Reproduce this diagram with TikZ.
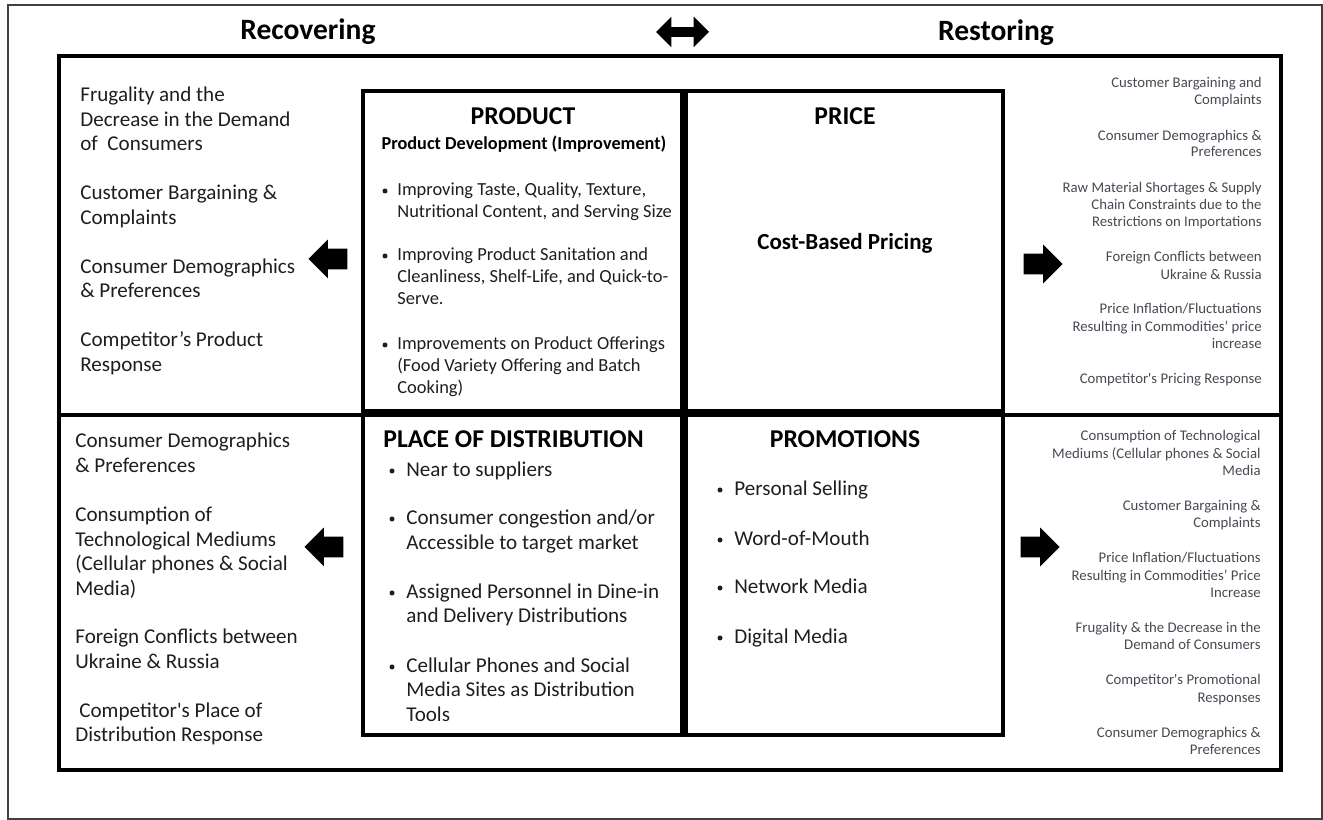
\documentclass[tikz,border=0pt]{standalone}
\usepackage{fontspec}
\setmainfont{Carlito}
\usetikzlibrary{positioning,shapes.arrows}
\definecolor{inkMain}{HTML}{1E1E1E}
\definecolor{inkSide}{HTML}{4B4753}

\tikzset{
  quad/.style={draw,line width=0.08cm,minimum width=6.38cm,minimum height=6.4cm,inner sep=0},
  heading/.style={font=\bfseries\fontsize{14.6}{16}\selectfont,inner sep=0,text height=9.4pt,text depth=0pt},
  sideL/.style={anchor=west,text=inkMain,font=\fontsize{12}{14}\selectfont,inner sep=0,text height=7.7pt,text depth=0pt},
  sideR/.style={anchor=east,text=inkSide,font=\fontsize{8.4}{10}\selectfont,inner sep=0,text height=5.4pt,text depth=0pt},
  itemS/.style={sideL,font=\fontsize{10.5}{12}\selectfont,text height=6.8pt},
  blockarrow/.style={single arrow,fill=black,inner xsep=0,inner ysep=0.2cm,minimum height=0.78cm,single arrow head extend=0.18cm}
}

\begin{document}
\begin{tikzpicture}[x=0.02cm,y=-0.02cm]
\useasboundingbox (0,0) rectangle (1323,820);

\draw[black!75,line width=0.045cm] (8,5) rectangle (1322,819);
\draw[line width=0.07cm] (59,56) rectangle (1281,770);
\draw[line width=0.07cm] (59,415) -- (1281,415);

\node[heading,font=\bfseries\fontsize{16.8}{18}\selectfont,text height=10.8pt] (tRecover) at (308,30) {Recovering};
\node[heading,font=\bfseries\fontsize{16.8}{18}\selectfont,text height=10.8pt] (tRestore) at (996,31.5) {Restoring};
\node[double arrow,fill=black,inner xsep=0,inner ysep=0.09cm,minimum height=1.06cm,
      double arrow head extend=0.21cm] (dirArrow) at (682.5,32) {};

\node[quad] (qProduct) at (522.5,251) {};
\node[quad,minimum width=6.34cm] (qPrice) at (844.5,251) {};
\node[quad] (qPlace) at (522.5,575) {};
\node[quad,minimum width=6.34cm] (qPromo) at (844.5,575) {};

\node[heading] (hProduct) at (523,116) {PRODUCT};
\node[heading] (hPrice) at (845,116) {PRICE};
\node[heading,anchor=west] (hPlace) at (383,439) {PLACE OF DISTRIBUTION};
\node[heading] (hPromo) at (845,439) {PROMOTIONS};
\node[heading,font=\bfseries\fontsize{10.4}{12}\selectfont,text height=6.7pt] (sProduct) at (524,144) {Product Development (Improvement)};
\node[heading,font=\bfseries\fontsize{13.1}{15}\selectfont,text height=8.4pt] (sPrice) at (845,242) {Cost-Based Pricing};

\foreach \y/\t [count=\i] in {190/{Improving Taste, Quality, Texture,},212/{Nutritional Content, and Serving Size},
    255/Improving Product Sanitation and,277/{Cleanliness, Shelf-Life, and Quick-to-},299/Serve.,
    344/Improvements on Product Offerings,366/(Food Variety Offering and Batch,388/Cooking)}
  \node[itemS] (pItem\i) at (397,\y) {\t};
\foreach \y/\t [count=\i] in {470/Near to suppliers,518/{Consumer congestion and/or},543/Accessible to target market,
    592/Assigned Personnel in Dine-in,616/and Delivery Distributions,
    666/Cellular Phones and Social,690/Media Sites as Distribution,715/Tools}
  \node[sideL] (dItem\i) at (406,\y) {\t};
\foreach \y/\t [count=\i] in {489/Personal Selling,539/Word-of-Mouth,587/Network Media,637/Digital Media}
  \node[sideL] (mItem\i) at (734,\y) {\t};
\foreach \x/\y in {385/191,385/256,385/345,392/471,392/519,392/593,392/667,720/490,720/540,720/588,720/638}
  \fill[inkMain] (\x,\y) circle (0.05cm);

\foreach \y/\t [count=\i] in {95/Frugality and the,120/Decrease in the Demand,144/of\ \ Consumers,
    193/Customer Bargaining \&,218/Complaints,267/Consumer Demographics,291/\& Preferences,
    340/Competitor’s Product,365/Response}
  \node[sideL] (recProd\i) at (80,\y) {\t};
\foreach \y/\t [count=\i] in {441/Consumer Demographics,466/\& Preferences,515/Consumption of,
    540/Technological Mediums,564/(Cellular phones \& Social,589/Media),637/Foreign Conflicts between,
    662/Ukraine \& Russia,711/\hspace{0.08cm}Competitor\textquotesingle s Place of,735/Distribution Response}
  \node[sideL] (recPlace\i) at (75,\y) {\t};

\foreach \y/\t [count=\i] in {83/Customer Bargaining and,100/Complaints,136/Consumer Demographics \&,152/Preferences,
    188/Raw Material Shortages \& Supply,205/Chain Constraints due to the,222/Restrictions on Importations,
    257/Foreign Conflicts between,275/Ukraine \& Russia,309/{Price Inflation/Fluctuations},
    327/Resulting in Commodities’ price,344/increase,379/Competitor\textquotesingle s Pricing Response}
  \node[sideR] (resPrice\i) at (1262,\y) {\t};
\foreach \y/\t [count=\i] in {436/Consumption of Technological,454/Mediums (Cellular phones \& Social,471/Media,
    506/Customer Bargaining \&,523/Complaints,558/{Price Inflation/Fluctuations},
    576/Resulting in Commodities’ Price,593/Increase,628/Frugality \& the Decrease in the,
    645/Demand of Consumers,680/Competitor\textquotesingle s Promotional,698/Responses,
    733/Consumer Demographics \&,750/Preferences}
  \node[sideR] (resPromo\i) at (1261,\y) {\t};

\node[blockarrow,shape border rotate=180,anchor=tip] (aRecTop) at (308,259) {};
\node[blockarrow,shape border rotate=180,anchor=tip] (aRecBot) at (304,547) {};
\node[blockarrow,anchor=tip] (aResTop) at (1063,264) {};
\node[blockarrow,anchor=tip] (aResBot) at (1060,547) {};

\end{tikzpicture}
\end{document}
